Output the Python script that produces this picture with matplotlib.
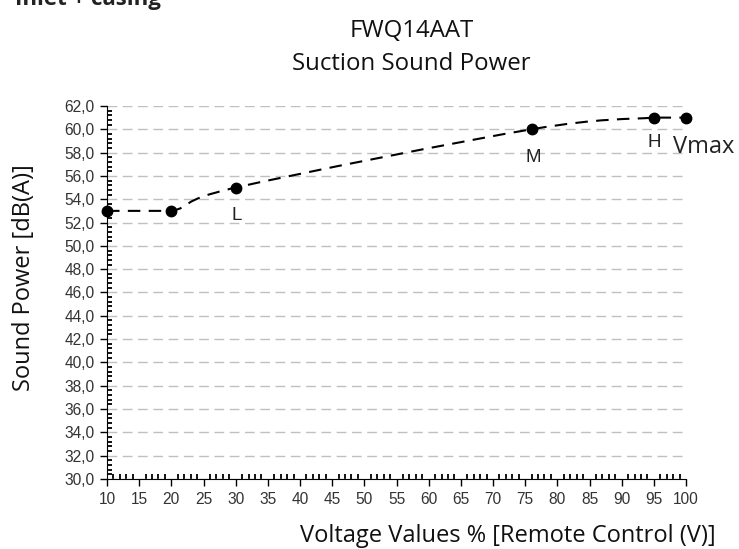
import numpy as np
import matplotlib.pyplot as plt
from matplotlib.path import Path
from matplotlib.patches import PathPatch
from matplotlib.ticker import MultipleLocator, FuncFormatter

# data
voltage = [10, 20, 30, 76, 95, 100]
sound_power = [53.0, 53.0, 55.0, 60.0, 61.0, 61.0]
point_labels = ['', '', 'L', 'M', 'H', 'Vmax']
# label offsets (x, y) in data units, text baseline
label_dx = [0, 0, 0.2, 0.2, 0.0, 2.8]
label_dy = [0, 0, -2.8, -2.8, -2.5, -3.0]

fig = plt.figure(figsize=(7.39, 5.49), dpi=100)
ax = fig.add_axes([0.1448, 0.1275, 0.7835, 0.6795])

# smooth line through the points (Excel style), flat parts drawn straight
x = np.array(voltage, dtype=float)
y = np.array(sound_power, dtype=float)
verts = [(x[0], y[0])]
codes = [Path.MOVETO]
t = 1 / 6
for i in range(len(x) - 1):
    if y[i] == y[i + 1]:
        verts.append((x[i + 1], y[i + 1]))
        codes.append(Path.LINETO)
        continue
    x0, y0 = (x[i - 1], y[i - 1]) if i > 0 else (x[i], y[i])
    x3, y3 = (x[i + 2], y[i + 2]) if i + 2 < len(x) else (x[i + 1], y[i + 1])
    c1 = (x[i] + (x[i + 1] - x0) * t, y[i] + (y[i + 1] - y0) * t)
    c2 = (x[i + 1] - (x3 - x[i]) * t, y[i + 1] - (y3 - y[i]) * t)
    verts += [c1, c2, (x[i + 1], y[i + 1])]
    codes += [Path.CURVE4] * 3
ax.add_patch(PathPatch(Path(verts, codes), fill=False, edgecolor='black',
                       lw=1.5, linestyle=(0, (6, 4)), zorder=3))
ax.plot(voltage, sound_power, 'o', color='black', markersize=7.5, zorder=4,
        clip_on=False)

# point labels
for xv, yv, lab, dx, dy in zip(voltage, sound_power, point_labels, label_dx, label_dy):
    if lab == 'Vmax':
        ax.text(xv + dx, yv + dy, lab, fontsize=17, family='Open Sans',
                ha='center', va='baseline', color='#222222', clip_on=False)
    elif lab:
        ax.text(xv + dx, yv + dy, lab, fontsize=13.5, family='Liberation Sans',
                ha='center', va='baseline', color='#222222')

ax.set_xlim(10, 100)
ax.set_ylim(30, 62)
ax.xaxis.set_major_locator(MultipleLocator(5))
ax.xaxis.set_minor_locator(MultipleLocator(1))
ax.yaxis.set_major_locator(MultipleLocator(2))
ax.yaxis.set_minor_locator(MultipleLocator(0.4))
ax.yaxis.set_major_formatter(FuncFormatter(lambda v, p: f'{v:.1f}'.replace('.', ',')))

for s in ['top', 'right']:
    ax.spines[s].set_visible(False)
ax.tick_params(which='major', length=5, width=1, labelsize=11.2, pad=4,
               labelcolor='#333333', labelfontfamily='Liberation Sans')
ax.tick_params(which='minor', length=3.5, width=1.3)
ax.tick_params(which='major', direction='out')
ax.tick_params(which='minor', direction='in')

ax.grid(axis='y', color='#c0c0c0', linestyle=(0, (7, 4)), lw=1)
ax.set_axisbelow(True)

fig.text(0.033, 0.494, 'Sound Power [dB(A)]', rotation=90, ha='center', va='center',
         fontsize=17, family='Open Sans', color='#111111')
fig.text(0.687, 1 - 542 / 549, 'Voltage Values % [Remote Control (V)]', ha='center',
         va='baseline', fontsize=17, family='Open Sans', color='#111111')
fig.text(0.557, 1 - 37 / 549, 'FWQ14AAT', ha='center', va='baseline',
         fontsize=17.3, family='Open Sans', color='#111111')
fig.text(0.557, 1 - 70 / 549, 'Suction Sound Power', ha='center', va='baseline',
         fontsize=17.3, family='Open Sans', color='#111111')
fig.text(0.02, 0.99, 'Inlet + casing', ha='left', va='baseline', fontsize=16,
         weight='bold', family='Open Sans', color='#222222')

fig.savefig('out.png', dpi=100)
